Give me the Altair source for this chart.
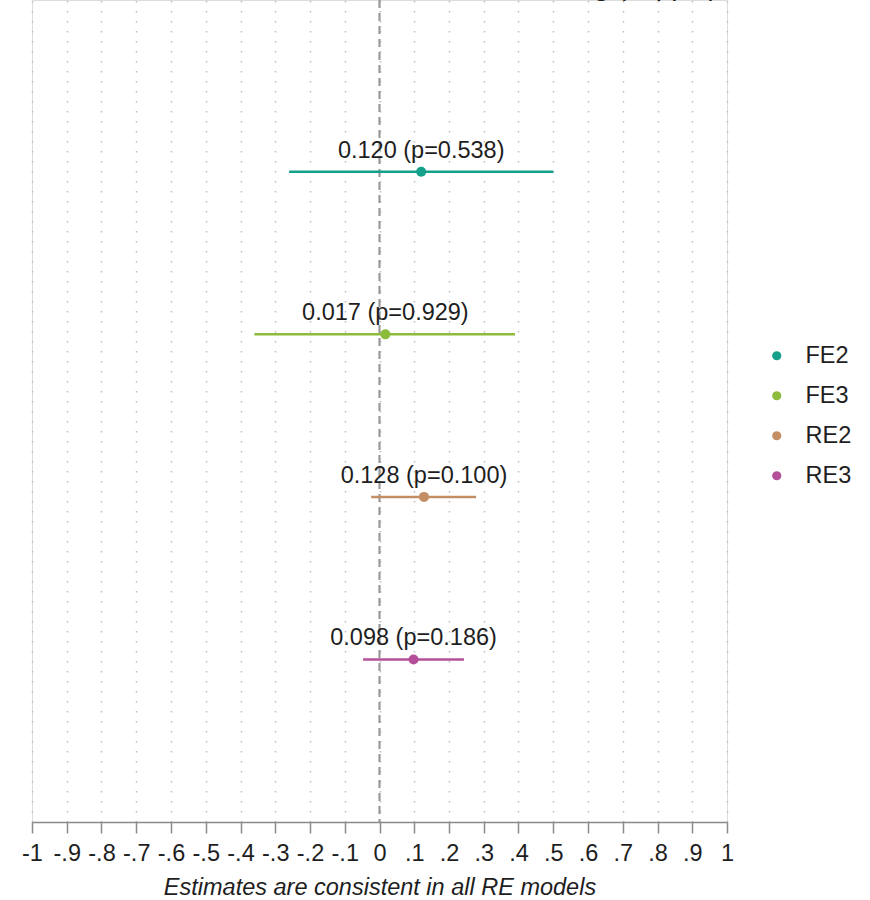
import altair as alt
import pandas as pd

# Model estimates with 95% confidence intervals
models = ["FE2", "FE3", "RE2", "RE3"]
estimates = [0.120, 0.017, 0.128, 0.098]
p_values = [0.538, 0.929, 0.100, 0.186]
ci_low = [-0.26, -0.36, -0.024, -0.047]
ci_high = [0.50, 0.39, 0.278, 0.243]
row_pos = [1, 2, 3, 4]

colors = ["#14a08a", "#8dbb3c", "#c48e64", "#b4509a"]

tick_values = [round(-1 + 0.1 * i, 1) for i in range(21)]
tick_labels = ["-1", "-.9", "-.8", "-.7", "-.6", "-.5", "-.4", "-.3", "-.2", "-.1", "0",
               ".1", ".2", ".3", ".4", ".5", ".6", ".7", ".8", ".9", "1"]

title_text = "Effect on lending (in ppts)"
note_text = "Estimates are consistent in all RE models"

df = pd.DataFrame({
    "model": models,
    "est": estimates,
    "p": p_values,
    "lo": ci_low,
    "hi": ci_high,
    "row": row_pos,
})
df["label"] = [f"{e:.3f} (p={p:.3f})" for e, p in zip(estimates, p_values)]

FONT = "Liberation Sans"
TEXT = "#1e1e1e"
label_lookup = "[" + ",".join(f"'{t}'" for t in tick_labels) + "]"

x_scale = alt.Scale(domain=[-1, 1], nice=False, zero=False)
y_scale = alt.Scale(domain=[-0.057, 5], reverse=True, nice=False, zero=False)
color_scale = alt.Scale(domain=models, range=colors)

x_axis = alt.Axis(
    values=tick_values,
    labelExpr=f"{label_lookup}[round(datum.value*10)+10]",
    grid=True, gridDash=[1.5, 8.5], gridColor="#bdbdbd", gridWidth=1.5,
    domainColor="#8a8a8a", domainWidth=1.5,
    tickColor="#8a8a8a", tickWidth=1.5, tickSize=11,
    labelFontSize=23.5, labelPadding=8, labelColor=TEXT, labelFont=FONT,
    labelOverlap=False, labelFlush=False,
    title=note_text, titleFontSize=23.5, titleFontStyle="italic",
    titleFontWeight="normal", titleColor=TEXT, titleFont=FONT, titlePadding=11,
)

legend = alt.Legend(
    title=None, orient="none", legendX=733, legendY=344,
    symbolType="circle", symbolSize=85, symbolStrokeWidth=0,
    labelFontSize=23.5, labelFont=FONT, labelColor=TEXT,
    rowPadding=15, labelOffset=17, padding=0,
)


def xenc(field):
    return alt.X(field, type="quantitative", scale=x_scale, axis=x_axis)


yenc = alt.Y("row:Q", scale=y_scale, axis=None)

base = alt.Chart(df)

# Confidence interval bars
ci = base.mark_rule(strokeWidth=2.5).encode(
    x=xenc("lo"),
    x2="hi:Q",
    y=yenc,
    stroke=alt.Stroke("model:N", scale=color_scale, legend=legend),
)

# Point estimates
points = base.mark_circle(size=100, opacity=1).encode(
    x=xenc("est"),
    y=yenc,
    fill=alt.Fill("model:N", scale=color_scale, legend=legend),
)

labels = base.mark_text(fontSize=23.5, font=FONT, color=TEXT, dy=-14, baseline="alphabetic").encode(
    x=xenc("est"),
    y=yenc,
    text="label:N",
)

zero_line = alt.Chart(pd.DataFrame({"x": [0]})).mark_rule(
    color="#999999", strokeWidth=2.2, strokeDash=[8, 5]
).encode(x=xenc("x"))

title = alt.Chart(pd.DataFrame({"t": [title_text]})).mark_text(
    fontSize=28, font=FONT, color=TEXT, align="right", baseline="alphabetic"
).encode(x=alt.value(686), y=alt.value(-5), text="t:N")

chart = alt.layer(zero_line, ci, points, labels, title).properties(
    width=695, height=822,
    autosize=alt.AutoSizeParams(type="none"),
    padding={"left": 32, "top": 0, "right": 143, "bottom": 78},
).configure_view(stroke=None).configure(font=FONT)

chart.save("out.html", embed_options={"renderer": "svg", "actions": False})
